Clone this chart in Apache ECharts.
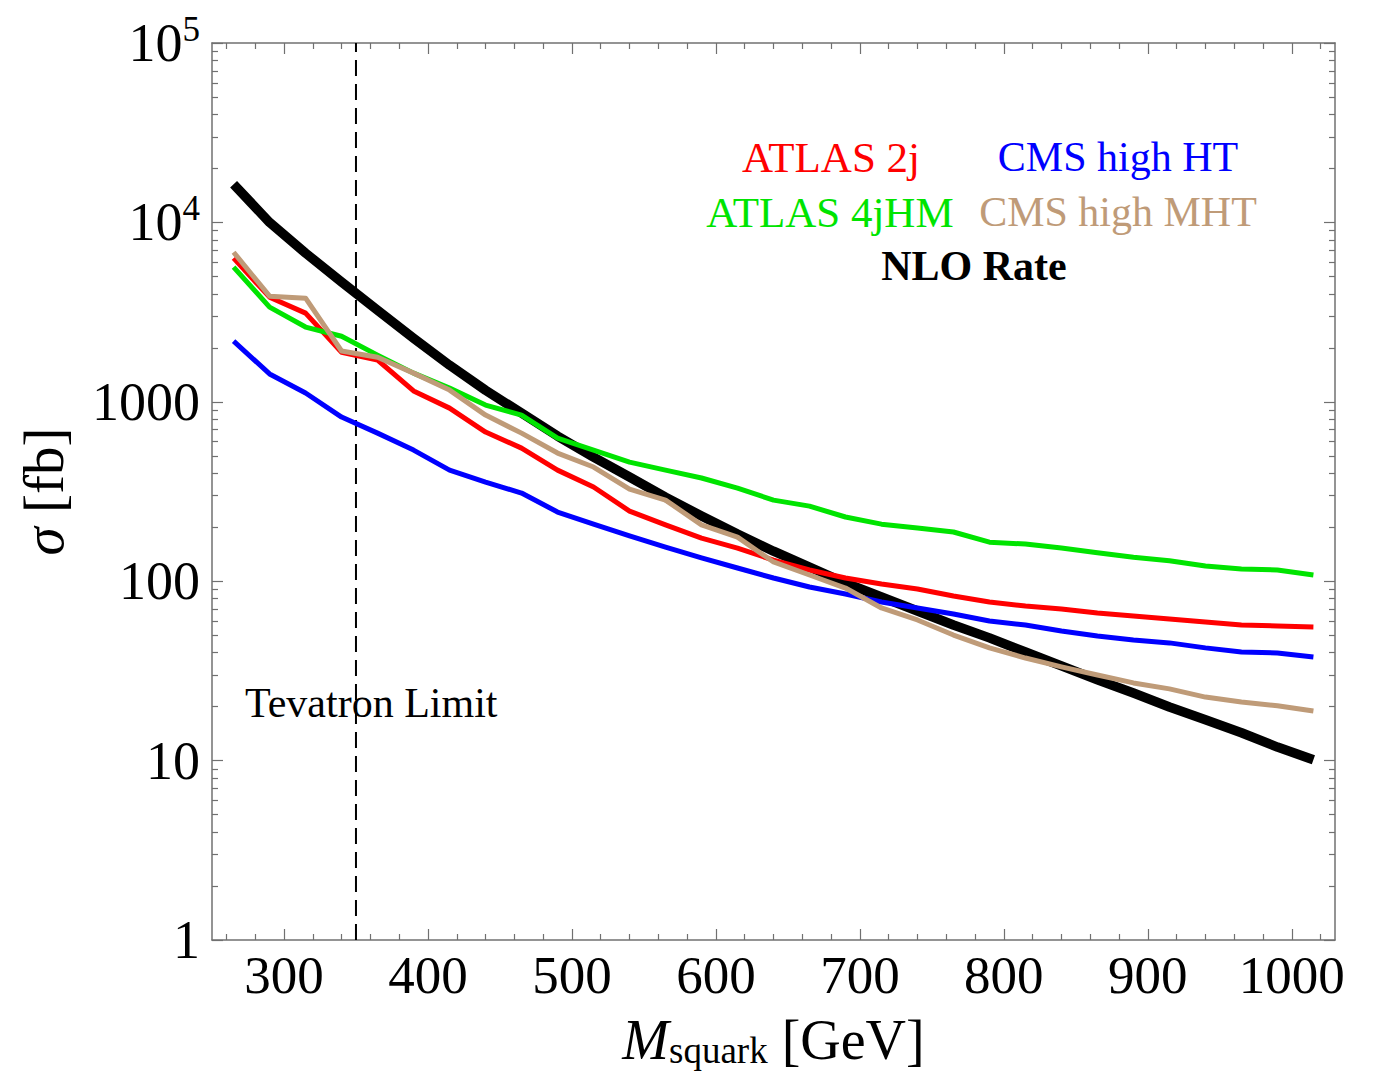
<!DOCTYPE html>
<html>
<head>
<meta charset="utf-8">
<script src="https://cdn.jsdelivr.net/npm/echarts@6/dist/echarts.min.js"></script>
<style>html,body{margin:0;padding:0;background:#fff}#c{width:1378px;height:1080px}</style>
</head>
<body>
<div id="c"></div>
<script>
// ---- data ----
const massGeV = [265,290,315,340,365,390,415,440,465,490,515,540,565,590,615,640,665,690,715,740,765,790,815,840,865,890,915,940,965,990,1015];
const nloRate = [16300,10000,6740,4650,3240,2260,1600,1160,865,644,492,381,294,231,183,147,120,97.7,81.7,68.2,57.0,48.3,40.3,33.7,28.2,23.8,19.9,16.9,14.3,11.9,10.1];
const atlas2j = [6320,3830,3120,1890,1710,1150,922,678,552,416,335,246,206,174,153,131,115.5,104.2,96.5,90.5,82.7,76.6,72.7,70.0,66.5,64.0,61.6,59.3,57.0,56.3,55.6];
const cmsHighHT = [2180,1430,1120,822,669,538,416,357,310,243,208,179,155,135,118.5,104.2,92.8,84.9,76.6,70.9,65.7,60.0,57.0,52.8,49.5,47.0,45.3,42.5,40.3,39.8,37.8];
const atlas4jHM = [5630,3370,2610,2320,1820,1445,1192,959,843,628,538,461,416,376,330,283,262,228,208,198,188,165,161,153,144,136,130,121.5,117,115.5,108.3];
const cmsHighMHT = [6820,3880,3780,1920,1770,1445,1162,843,669,518,433,326,283,206,176,128,108.3,91.6,70.9,60.8,50.1,42.5,37.3,33.3,30.0,27.1,25.1,22.6,21.2,20.2,18.9];
const tevatronLimit = 350;
const xMajorTicks = [300,400,500,600,700,800,900,1000];
const xMinorTicks = [260,280,320,340,360,380,420,440,460,480,520,540,560,580,620,640,660,680,720,740,760,780,820,840,860,880,920,940,960,980,1020];
const yMajorTicks = [1,10,100,1000,10000,100000];
const yTickLabels = {1:'1',10:'10',100:'100',1000:'1000',10000:'10{s|4}',100000:'10{s|5}'};
const yMinorTicks = [];
[1,10,100,1000,10000].forEach(d => { for (let k = 2; k <= 9; k++) yMinorTicks.push(k*d); });

// ---- style ----
const SERIF = '"Liberation Serif","Times New Roman",serif';
const FRAME = '#707070';
const XMIN = 250, XMAX = 1030, YMIN = 1, YMAX = 100000;
const GRID = {left: 212, top: 43, right: 43, bottom: 140, outerBoundsMode: 'none'};

function xAx(pos, ticks, len, showLine, showLabel, extra) {
  return Object.assign({
    type: 'value', min: XMIN, max: XMAX, position: pos, gridIndex: 0,
    axisLine: {show: showLine, onZero: false, lineStyle: {color: FRAME, width: 1.5}},
    axisTick: {show: true, inside: true, length: len, customValues: ticks, lineStyle: {color: FRAME, width: 1.2}},
    axisLabel: showLabel ? {show: true, customValues: ticks, fontFamily: SERIF, fontSize: 53, color: '#000', margin: 8,
      formatter: v => String(v)} : {show: false},
    splitLine: {show: false}
  }, extra || {});
}
function yAx(pos, ticks, len, showLine, showLabel, extra) {
  return Object.assign({
    type: 'log', logBase: 10, min: YMIN, max: YMAX, position: pos, gridIndex: 0,
    axisLine: {show: showLine, onZero: false, lineStyle: {color: FRAME, width: 1.5}},
    axisTick: {show: true, inside: true, length: len, customValues: ticks, lineStyle: {color: FRAME, width: 1.2}},
    axisLabel: showLabel ? {
      show: true, customValues: ticks, fontFamily: SERIF, fontSize: 54, color: '#000', margin: 12,
      formatter: v => yTickLabels[Math.round(v)] || String(v),
      rich: {s: {fontFamily: SERIF, fontSize: 35, color: '#000', padding: [0, 0, 28, 0]}}
    } : {show: false},
    splitLine: {show: false}
  }, extra || {});
}

const chart = echarts.init(document.getElementById('c'), null, {renderer: 'svg'});
const pairs = arr => massGeV.map((m, i) => [m, arr[i]]);
const lineS = (name, arr, color, width) => ({
  name, type: 'line', data: pairs(arr), xAxisIndex: 0, yAxisIndex: 0,
  showSymbol: false, symbol: 'none', smooth: false, clip: true, z: 3,
  lineStyle: {color, width, cap: 'butt', join: 'round'}, itemStyle: {color}
});

chart.setOption({
  backgroundColor: '#fff',
  animation: false,
  grid: GRID,
  xAxis: [
    xAx('bottom', xMajorTicks, 11, true, true, {
      name: '{i|M}{sub|squark}{n| [GeV]}', nameLocation: 'middle', nameGap: 72,
      nameTextStyle: {fontFamily: SERIF, color: '#000', verticalAlign: 'top',
        rich: {
          i: {fontFamily: SERIF, fontStyle: 'italic', fontSize: 56, color: '#000', padding: [0, 0, 21, 0]},
          sub: {fontFamily: SERIF, fontSize: 37, color: '#000'},
          n: {fontFamily: SERIF, fontSize: 56, color: '#000', padding: [0, 0, 21, 0]}
        }}
    }),
    xAx('bottom', xMinorTicks, 6, false, false),
    xAx('top', xMajorTicks, 11, true, false),
    xAx('top', xMinorTicks, 6, false, false)
  ],
  yAxis: [
    yAx('left', yMajorTicks, 11, true, true, {
      name: '{i|σ}{n| [fb]}', nameLocation: 'middle', nameGap: 140, nameRotate: 90,
      nameTextStyle: {fontFamily: SERIF, color: '#000',
        rich: {
          i: {fontFamily: SERIF, fontStyle: 'italic', fontSize: 57, color: '#000'},
          n: {fontFamily: SERIF, fontSize: 57, color: '#000'}
        }}
    }),
    yAx('left', yMinorTicks, 6, false, false),
    yAx('right', yMajorTicks, 11, true, false),
    yAx('right', yMinorTicks, 6, false, false)
  ],
  series: [
    {
      name: 'Tevatron Limit', type: 'line', xAxisIndex: 0, yAxisIndex: 0,
      data: [[tevatronLimit, YMIN], [tevatronLimit, YMAX]],
      showSymbol: false, symbol: 'none', z: 2,
      lineStyle: {color: '#000', width: 2, type: [16, 8]}
    },
    lineS('NLO Rate', nloRate, '#000000', 9.5),
    lineS('ATLAS 2j', atlas2j, '#ff0000', 5),
    lineS('CMS high HT', cmsHighHT, '#0000ff', 5),
    lineS('ATLAS 4jHM', atlas4jHM, '#00e400', 5),
    lineS('CMS high MHT', cmsHighMHT, '#bf9b78', 5)
  ],
  graphic: [
    {type: 'text', x: 831, y: 157, style: {text: 'ATLAS 2j', fill: '#ff0000', font: '43px ' + SERIF, textAlign: 'center', textVerticalAlign: 'middle'}},
    {type: 'text', x: 1118, y: 157, style: {text: 'CMS high HT', fill: '#0000ff', font: '42px ' + SERIF, textAlign: 'center', textVerticalAlign: 'middle'}},
    {type: 'text', x: 830, y: 212, style: {text: 'ATLAS 4jHM', fill: '#00e400', font: '43px ' + SERIF, textAlign: 'center', textVerticalAlign: 'middle'}},
    {type: 'text', x: 1118, y: 212, style: {text: 'CMS high MHT', fill: '#bf9b78', font: '42px ' + SERIF, textAlign: 'center', textVerticalAlign: 'middle'}},
    {type: 'text', x: 974, y: 266, style: {text: 'NLO Rate', fill: '#000', font: 'bold 42px ' + SERIF, textAlign: 'center', textVerticalAlign: 'middle'}},
    {type: 'text', x: 245, y: 703, style: {text: 'Tevatron Limit', fill: '#000', font: '42px ' + SERIF, textAlign: 'left', textVerticalAlign: 'middle'}}
  ]
});
</script>
</body>
</html>
